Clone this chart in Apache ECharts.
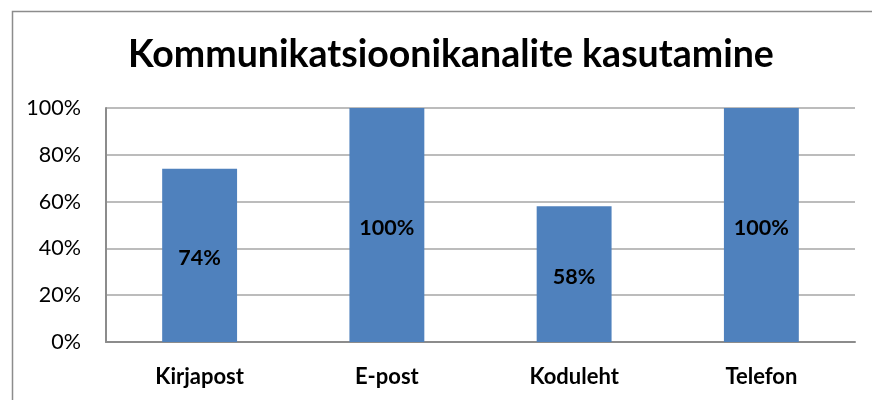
<!DOCTYPE html>
<html><head><meta charset="utf-8">
<script src="https://cdn.jsdelivr.net/npm/echarts@6/dist/echarts.min.js"></script>
<style>html,body{margin:0;padding:0;background:#fff}#c{width:872px;height:400px}</style>
</head><body><div id="c"></div>
<script>
const categories = ['Kirjapost', 'E-post', 'Koduleht', 'Telefon'];
const values = [74, 100, 58, 100];
const yTicks = [0, 20, 40, 60, 80, 100];
const titleText = 'Kommunikatsioonikanalite kasutamine';
const FONT = 'Lato, "Open Sans", sans-serif';

const chart = echarts.init(document.getElementById('c'));
chart.setOption({
  animation: false,
  graphic: [{
    type: 'rect', left: 10, top: 9, silent: true,
    shape: { x: 0, y: 0, width: 900, height: 430 },
    style: { fill: 'none', stroke: '#8c8c8c', lineWidth: 1.5 }
  }],
  title: {
    text: titleText, left: 123, top: 31,
    textStyle: { fontFamily: FONT, fontWeight: 'bold', fontSize: 37.5, color: '#000' }
  },
  grid: { left: 106, right: 17, top: 108, bottom: 58, containLabel: false },
  xAxis: {
    type: 'category', data: categories,
    axisLine: { lineStyle: { color: '#8c8c8c', width: 2 } },
    axisTick: { show: false },
    axisLabel: { fontFamily: FONT, fontWeight: 'bold', fontSize: 22, color: '#000', margin: 24 }
  },
  yAxis: {
    type: 'value', min: 0, max: 100, interval: 20,
    axisLine: { show: true, lineStyle: { color: '#8c8c8c', width: 2 } },
    axisTick: { show: false },
    splitLine: { lineStyle: { color: '#a6a6a6', width: 1.5 } },
    axisLabel: {
      fontFamily: FONT, fontSize: 21.5, color: '#000', margin: 25,
      formatter: v => yTicks.includes(v) ? v + '%' : ''
    }
  },
  series: [{
    type: 'bar', data: values, barWidth: '40%',
    itemStyle: { color: '#4f81bd' },
    label: {
      show: true, position: 'inside', offset: [0, 3], formatter: '{c}%',
      fontFamily: FONT, fontWeight: 'bold', fontSize: 21.5, color: '#000'
    }
  }]
});
</script></body></html>
